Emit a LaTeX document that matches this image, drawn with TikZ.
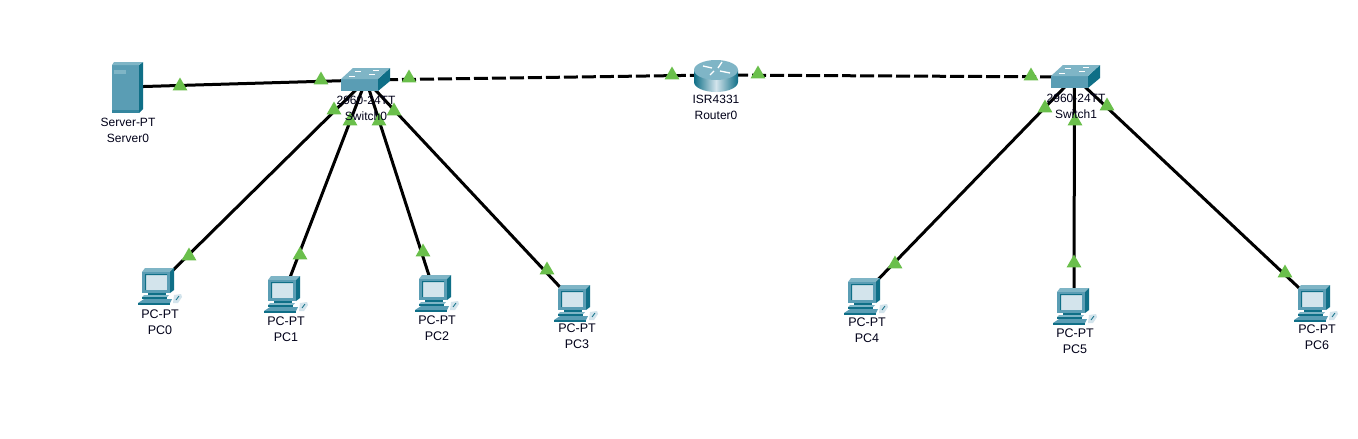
\documentclass[tikz,border=0pt]{standalone}
\usepackage{fontspec}
\setmainfont{Liberation Sans}
\usetikzlibrary{shapes.geometric}
\definecolor{bodyc}{HTML}{5A9DB4}
\definecolor{sidec}{HTML}{0F6F87}
\definecolor{topc}{HTML}{7FB5C6}
\definecolor{screenc}{HTML}{D3E4EC}
\definecolor{linkg}{HTML}{6ABF4B}
\tikzset{
  x=1pt,y=-1pt,
  link/.style={line width=3pt,black},
  dlink/.style={link,dash pattern=on 14pt off 4pt},
  lamp/.style={regular polygon,regular polygon sides=3,fill=linkg,inner sep=0pt,minimum size=17pt},
  lab/.style={font=\fontsize{12}{16}\selectfont,align=center,inner sep=0pt,text=black!90!blue},
  pclab/.style={lab,font=\fontsize{12.5}{16}\selectfont},
  anchorpt/.style={coordinate}
}
\newcommand{\pcicon}[2]{% centre x,y
 \begin{scope}[shift={(#1,#2)}]
  \fill[topc] (-12,-17) -- (17,-17) -- (13,-13) -- (-15,-13) -- cycle;
  \fill[bodyc] (-15,-13) rectangle (13,8);
  \fill[sidec] (13,-13) -- (17,-17) -- (17,5) -- (13,8) -- cycle;
  \fill[screenc] (-12,-11) -- (10,-11) -- (10,5) -- (-12,5) -- cycle;
  \fill[sidec] (-12,-11) -- (10,-11) -- (10,-10) -- (-11,-10) -- (-11,5) -- (-12,5) -- cycle;
  \fill[sidec] (-9,8) rectangle (9,10);
  \fill[topc] (-13,10) -- (12,10) -- (10,12) -- (-15,12) -- cycle;
  \fill[sidec] (-15,12) rectangle (10,14);
  \fill[bodyc] (-13,14) -- (15,14) -- (13,18) -- (-19,18) -- cycle;
  \fill[sidec] (-19,18) rectangle (13,19.5);
  \fill[screenc] (17,10) -- (24,9) -- (25,12) -- (21,18) -- (16,18) -- cycle;
  \draw[sidec,line width=.8pt] (19,15) -- (22,11);
 \end{scope}}
\newcommand{\swicon}[2]{%
 \begin{scope}[shift={(#1,#2)}]
  \fill[bodyc] (-25,-1) -- (12,-1) -- (12,11) -- (-25,11) -- cycle;
  \fill[sidec] (12,-1) -- (24,-12) -- (24,1) -- (12,11) -- cycle;
  \fill[topc] (-25,-1) -- (-13,-12) -- (24,-12) -- (12,-1) -- cycle;
  \draw[white,line width=.8pt] (-11,-9) -- (-5,-9) (7,-10) -- (13,-10) (-17,-4) -- (-11,-4) (3,-6) -- (9,-6);
 \end{scope}}
\newcommand{\rticon}[2]{%
 \begin{scope}[shift={(#1,#2)}]
  \shade[left color=sidec,right color=sidec,middle color=screenc] (-22,-5) -- (-22,7) arc[start angle=180,end angle=0,x radius=22,y radius=10] -- (22,-5) -- cycle;
  \fill[topc] (0,-5) ellipse[x radius=22,y radius=10];
  \draw[white,line width=1.3pt] (-13,-9) -- (-4,-7) (6,-13) -- (2,-7) (-6,0) -- (-2,-4) (14,-2) -- (4,-4);
 \end{scope}}
\newcommand{\svicon}[2]{%
 \begin{scope}[shift={(#1,#2)}]
  \fill[bodyc] (-15,-23) -- (12,-23) -- (12,25) -- (-15,25) -- cycle;
  \fill[sidec] (12,-23) -- (16,-26) -- (16,21) -- (12,25) -- cycle;
  \fill[topc] (-15,-23) -- (-13,-26) -- (16,-26) -- (12,-23) -- cycle;
  \fill[topc] (-13,-18) rectangle (-1,-14);
  \fill[sidec!50!bodyc] (-15,22) rectangle (12,25);
 \end{scope}}
\begin{document}
\begin{tikzpicture}
\useasboundingbox (0,0) rectangle (1358,439);
\fill[white] (0,0) rectangle (1358,439);
\node[anchorpt] (sv) at (127,87) {};
\node[anchorpt] (sw0) at (366,80) {};
\node[anchorpt] (sw1) at (1074.5,77) {};
\node[anchorpt] (rt) at (716,75) {};
\node[anchorpt] (pc0) at (158,285) {};
\node[anchorpt] (pc1) at (284,293) {};
\node[anchorpt] (pc2) at (434,291) {};
\node[anchorpt] (pc3) at (574,302) {};
\node[anchorpt] (pc4) at (864,294) {};
\node[anchorpt] (pc5) at (1074,305) {};
\node[anchorpt] (pc6) at (1314,302) {};
\draw[link] (sv) -- (sw0);
\draw[dlink] (sw0) -- (rt);
\draw[dlink] (rt) -- (sw1);
\foreach \p in {pc0,pc1,pc2,pc3} \draw[link] (sw0) -- (\p);
\foreach \p in {pc4,pc5,pc6} \draw[link] (sw1) -- (\p);
\svicon{127}{88}
\swicon{366}{80}
\swicon{1076}{77}
\rticon{716}{75}
\pcicon{157}{285}
\pcicon{283}{293}
\pcicon{434}{292}
\pcicon{573}{302}
\pcicon{863}{295}
\pcicon{1072}{305}
\pcicon{1313}{302}
\foreach \n/\x/\y in {a/180/86,b/321/80,c/409/78,d/672/75,e/758/74,f/1031/76,g/334/110,h/350/121,i/379/121,j/394/111,k/189/256,l/300/255,m/423/252,n/547/270,o/1045/108,q/1075/121,r/1107/106,s/895/264,t/1074/263,u/1285/273}
  \node[lamp] (lamp\n) at (\x,\y) {};
\node[lab] (lsv) at (128,130.5) {Server-PT\\Server0};
\node[lab] (lsw0) at (366,108.5) {2960-24TT\\Switch0};
\node[lab] (lsw1) at (1076,106.5) {2960-24TT\\Switch1};
\node[lab] (lrt) at (716,107.5) {ISR4331\\Router0};
\node[pclab] (lpc0) at (160,322.5) {PC-PT\\PC0};
\node[pclab] (lpc1) at (286,329.5) {PC-PT\\PC1};
\node[pclab] (lpc2) at (437,328.5) {PC-PT\\PC2};
\node[pclab] (lpc3) at (577,336.5) {PC-PT\\PC3};
\node[pclab] (lpc4) at (867,330.5) {PC-PT\\PC4};
\node[pclab] (lpc5) at (1075,341.5) {PC-PT\\PC5};
\node[pclab] (lpc6) at (1317,337.5) {PC-PT\\PC6};
\end{tikzpicture}
\end{document}
